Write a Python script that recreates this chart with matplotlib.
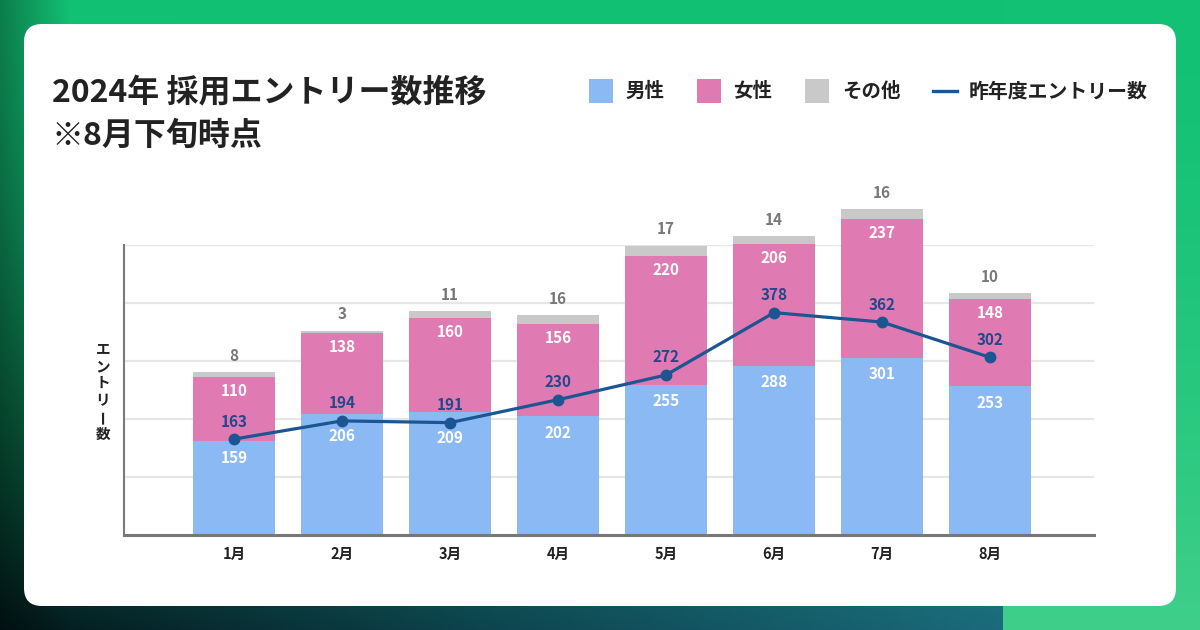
import numpy as np
import matplotlib
matplotlib.use("Agg")
import matplotlib.pyplot as plt
from matplotlib.patches import FancyBboxPatch, Rectangle
from matplotlib.lines import Line2D

plt.rcParams['font.family'] = ['Noto Sans CJK JP', 'DejaVu Sans']

# ---------------- data ----------------
months = ["1月", "2月", "3月", "4月", "5月", "6月", "7月", "8月"]
male = [159, 206, 209, 202, 255, 288, 301, 253]
female = [110, 138, 160, 156, 220, 206, 237, 148]
other = [8, 3, 11, 16, 17, 14, 16, 10]
last_year = [163, 194, 191, 230, 272, 378, 362, 302]

title_line1 = "2024年 採用エントリー数推移"
title_line2 = "※8月下旬時点"
legend_labels = ["男性", "女性", "その他", "昨年度エントリー数"]
ylabel = "エントリー数"
y_max = 493

C_MALE = "#8BB9F4"
C_FEMALE = "#E07AB2"
C_OTHER = "#C9C9C9"
C_LINE = "#1B5592"
C_LINE_TXT = "#23478A"
C_OTHER_TXT = "#777777"
C_TEXT = "#222222"

W, H = 1200, 630
fig = plt.figure(figsize=(W / 100, H / 100), dpi=100)

# ---------------- background + card ----------------
bg = fig.add_axes([0, 0, 1, 1])
bg.set_xlim(0, W)
bg.set_ylim(H, 0)
bg.axis('off')

yy, xx = np.mgrid[0:H, 0:W]
top = np.array([0x12, 0xC1, 0x74]) / 255.0
dark0 = np.array([0x03, 0x18, 0x1A]) / 255.0
dark1 = np.array([0x0E, 0x45, 0x50]) / 255.0
dark2 = np.array([0x1B, 0x6A, 0x7C]) / 255.0
green_b = np.array([0x40, 0xCF, 0x8B]) / 255.0
bottom = np.zeros((W, 3))
for i in range(W):
    if i < 500:
        a = i / 500
        bottom[i] = dark0 * (1 - a) + dark1 * a
    elif i < 1003:
        a = (i - 500) / 503
        bottom[i] = dark1 * (1 - a) + dark2 * a
    else:
        bottom[i] = green_b
t = (yy / H) ** 1.5
img = top[None, None, :] * (1 - t[..., None]) + bottom[None, :, :] * t[..., None]
f = np.clip(1 - xx / 70.0, 0, 1) * 0.35
img = img * (1 - f[..., None])
bg.imshow(img, extent=[0, W, H, 0], aspect='auto', zorder=0, interpolation='bilinear')

card = FancyBboxPatch((24, 24), 1152, 582, boxstyle="round,pad=0,rounding_size=18",
                      fc='white', ec='none', zorder=1)
bg.add_patch(card)

# titles
bg.text(52, 92, title_line1, fontsize=23, fontweight='bold', color=C_TEXT,
        va='center', ha='left', zorder=3)
bg.text(52, 136, title_line2, fontsize=23, fontweight='bold', color=C_TEXT,
        va='center', ha='left', zorder=3)

# legend (hand-built)
leg_y = 91
for sx, tx, col, lab in [(589, 625, C_MALE, legend_labels[0]),
                         (697, 733, C_FEMALE, legend_labels[1]),
                         (805, 842, C_OTHER, legend_labels[2])]:
    bg.add_patch(Rectangle((sx, leg_y - 12), 24, 24, fc=col, ec='none', zorder=3))
    bg.text(tx, leg_y, lab, fontsize=14, fontweight='bold', color=C_TEXT,
            va='center', ha='left', zorder=3)
bg.add_line(Line2D([933, 957], [leg_y, leg_y], color=C_LINE, lw=2.4, zorder=3))
bg.text(969, leg_y, legend_labels[3], fontsize=14.3, fontweight='bold', color=C_TEXT,
        va='center', ha='left', zorder=3)

# vertical y label
for i, ch in enumerate(ylabel):
    rot = 90 if ch == "ー" else 0
    bg.text(103, 349 + 17 * i, ch, fontsize=10.5, fontweight='bold', color=C_TEXT,
            va='center', ha='center', rotation=rot, zorder=3)

# ---------------- chart ----------------
ax_left, ax_right, ax_top, ax_bottom = 124, 1094, 245, 535
ax = fig.add_axes([ax_left / W, (H - ax_bottom) / H, (ax_right - ax_left) / W,
                   (ax_bottom - ax_top) / H])
ax.patch.set_alpha(0)
ax.set_zorder(2)

x = np.arange(len(months))
bw = 0.76
male_a = np.array(male)
female_a = np.array(female)
other_a = np.array(other)
ax.bar(x, male_a, width=bw, color=C_MALE, zorder=2, clip_on=False)
ax.bar(x, female_a, width=bw, bottom=male_a, color=C_FEMALE, zorder=2, clip_on=False)
ax.bar(x, other_a, width=bw, bottom=male_a + female_a, color=C_OTHER, zorder=2, clip_on=False)
ax.plot(x, last_year, color=C_LINE, lw=2.3, marker='o', ms=7.5, zorder=4, clip_on=False)

ax.set_ylim(0, y_max)
ax.set_xlim(-1.0185, 7.963)
ax.set_yticks(np.linspace(0, y_max, 6)[1:])
ax.yaxis.grid(True, color='#E6E6E6', lw=1.6)
ax.set_axisbelow(True)
ax.tick_params(axis='y', length=0, labelleft=False)
ax.set_xticks(x)
ax.set_xticklabels(months, fontsize=10.5, fontweight='bold', color=C_TEXT)
ax.tick_params(axis='x', length=0, pad=8)
for s in ['top', 'right']:
    ax.spines[s].set_visible(False)
ax.spines['left'].set_color('#7A7A7A')
ax.spines['left'].set_linewidth(1.5)
ax.spines['bottom'].set_color('#777777')
ax.spines['bottom'].set_linewidth(2.2)

# pixel per data unit
ppu = (ax_bottom - ax_top) / float(y_max)
def px(v):
    return v / ppu

lbl_kw = dict(fontsize=11, fontweight='bold', ha='center', va='center', zorder=6)
for i in range(len(months)):
    mt = male_a[i]
    ft = male_a[i] + female_a[i]
    tt = ft + other_a[i]
    pt = last_year[i]
    # male label
    my = mt - px(16.5)
    if abs(my - pt) < px(14):
        my = min(my, pt - px(15))
    ax.text(i, my, str(male[i]), color='white', **lbl_kw)
    # female label
    ax.text(i, ft - px(14), str(female[i]), color='white', **lbl_kw)
    # other label
    ax.text(i, tt + px(16.5), str(other[i]), color=C_OTHER_TXT, clip_on=False, **lbl_kw)
    # line label
    ax.text(i, pt + px(17.5), str(last_year[i]), color=C_LINE_TXT, **lbl_kw)

fig.savefig("out.png", dpi=100)
